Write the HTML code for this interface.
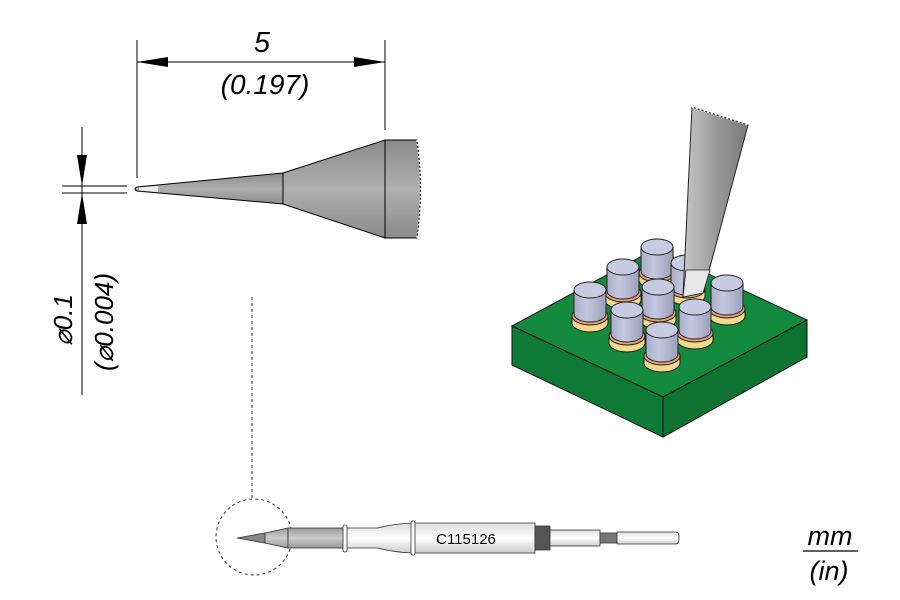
<!DOCTYPE html>
<html><head><meta charset="utf-8"><style>
html,body{margin:0;padding:0;background:#fff;width:900px;height:600px;overflow:hidden}
text{font-family:"Liberation Sans",sans-serif}
</style></head><body>
<svg width="900" height="600" viewBox="0 0 900 600" xmlns="http://www.w3.org/2000/svg">
<defs>
<linearGradient id="cone" x1="0" y1="0" x2="0" y2="1">
<stop offset="0" stop-color="#8a8a8a"/><stop offset="0.5" stop-color="#b0b0b0"/><stop offset="1" stop-color="#8a8a8a"/></linearGradient>
<linearGradient id="tipg" x1="0" y1="0" x2="1" y2="0">
<stop offset="0" stop-color="#c8c8c8"/><stop offset="0.5" stop-color="#9a9a9a"/><stop offset="1" stop-color="#7a7a7a"/></linearGradient>
<linearGradient id="cyl" x1="0" y1="0" x2="1" y2="0">
<stop offset="0" stop-color="#a9adc8"/><stop offset="0.4" stop-color="#c4c8e0"/><stop offset="1" stop-color="#9a9eb8"/></linearGradient>
<linearGradient id="shaft" x1="0" y1="0" x2="0" y2="1">
<stop offset="0" stop-color="#ddd"/><stop offset="0.5" stop-color="#fff"/><stop offset="1" stop-color="#ccc"/></linearGradient>
<linearGradient id="shaftg" x1="0" y1="0" x2="0" y2="1">
<stop offset="0" stop-color="#999"/><stop offset="0.5" stop-color="#ccc"/><stop offset="1" stop-color="#999"/></linearGradient>
<g id="pin">
<path d="M-18 26 V33 A18 9 0 0 0 18 33 V26 Z" fill="#f1d98a" stroke="#222" stroke-width="1"/>
<ellipse cx="0" cy="26" rx="18" ry="9" fill="#e3a070" stroke="#222" stroke-width="1"/>
<path d="M-16 0 V24 A16 8 0 0 0 16 24 V0 Z" fill="url(#cyl)" stroke="#222" stroke-width="1"/>
<ellipse cx="0" cy="0" rx="16" ry="8" fill="#c7cbe2" stroke="#222" stroke-width="1"/>
</g>
</defs>

<line x1="137" y1="40" x2="137" y2="178" stroke="#000" stroke-width="1"/>
<line x1="385" y1="40" x2="385" y2="130" stroke="#000" stroke-width="1"/>
<line x1="137" y1="62" x2="385" y2="62" stroke="#000" stroke-width="1"/>
<polygon points="137,62 168,57 168,67" fill="#000"/>
<polygon points="385,62 354,57 354,67" fill="#000"/>
<text x="262" y="52" font-size="29" font-style="italic" text-anchor="middle">5</text>
<text x="265" y="94" font-size="28" font-style="italic" text-anchor="middle">(0.197)</text>

<path d="M385 140 H417 Q424 189 417 238 H385 Z" fill="url(#cone)" stroke="#000" stroke-width="1"/>
<path d="M417 140 Q424 189 417 238" fill="none" stroke="#fff" stroke-width="1.5" stroke-dasharray="2,2"/>
<path d="M283 173 L385 140 V238 L283 204 Z" fill="url(#cone)" stroke="#000" stroke-width="1"/>
<path d="M137 187 L283 173 V204 L137 191 Q133 189 137 187 Z" fill="url(#cone)" stroke="#000" stroke-width="1"/>
<path d="M139 187.5 L158 186 V192 L139 190.5 Z" fill="#eee"/>

<line x1="82" y1="127" x2="82" y2="395" stroke="#000" stroke-width="1"/>
<line x1="62" y1="186" x2="127" y2="186" stroke="#000" stroke-width="1"/>
<line x1="62" y1="193" x2="127" y2="193" stroke="#000" stroke-width="1"/>
<polygon points="82,186 77,155 87,155" fill="#000"/>
<polygon points="82,193 77,224 87,224" fill="#000"/>
<text transform="translate(72,320) rotate(-90)" font-size="26" font-style="italic" text-anchor="middle">⌀0.1</text>
<text transform="translate(113,322) rotate(-90)" font-size="26" font-style="italic" text-anchor="middle">(⌀0.004)</text>

<line x1="252" y1="297" x2="252" y2="498" stroke="#333" stroke-width="1" stroke-dasharray="3,3"/>
<circle cx="254" cy="537" r="38" fill="none" stroke="#333" stroke-width="1" stroke-dasharray="3,3"/>

<path d="M237 538 L265 533 V543 Z" fill="#888" stroke="#333" stroke-width="0.8"/>
<path d="M265 533 L288 528 V548 L265 543 Z" fill="url(#shaftg)" stroke="#333" stroke-width="0.8"/>
<rect x="288" y="528" width="57" height="20" fill="url(#shaftg)" stroke="#333" stroke-width="0.8"/>
<path d="M345 528 H378 Q392 524 412 523 H535 V553 H412 Q392 552 378 548 H345 Z" fill="url(#shaft)" stroke="#333" stroke-width="0.8"/>
<rect x="343" y="525" width="4" height="27" rx="2" fill="#fff" stroke="#333" stroke-width="0.8"/>
<rect x="411" y="521" width="4" height="34" rx="2" fill="#fff" stroke="#333" stroke-width="0.8"/>
<rect x="535" y="526" width="15" height="24" fill="#555" stroke="#333" stroke-width="0.8"/>
<rect x="550" y="530" width="50" height="16" fill="url(#shaft)" stroke="#333" stroke-width="0.8"/>
<rect x="600" y="533" width="17" height="10" fill="#777" stroke="#333" stroke-width="0.8"/>
<path d="M617 532 H676 Q679 532 679 538 Q679 544 676 544 H617 Z" fill="url(#shaft)" stroke="#333" stroke-width="0.8"/>
<text x="466" y="544" font-size="15" text-anchor="middle">C115126</text>

<text x="830" y="545" font-size="27" font-style="italic" text-anchor="middle">mm</text>
<line x1="803" y1="551" x2="858" y2="551" stroke="#000" stroke-width="1.2"/>
<text x="829" y="580" font-size="27" font-style="italic" text-anchor="middle">(in)</text>

<polygon points="512,326 655,249 807,320 663,397" fill="#138a3e" stroke="#111" stroke-width="1"/>
<polygon points="512,326 663,397 663,437 512,365" fill="#0f7a35" stroke="#111" stroke-width="1"/>
<polygon points="663,397 807,320 807,357 663,437" fill="#0e7231" stroke="#111" stroke-width="1"/>

<use href="#pin" x="657" y="247"/>
<use href="#pin" x="687" y="263"/>
<use href="#pin" x="623" y="267"/>
<use href="#pin" x="590" y="290"/>
<use href="#pin" x="658" y="287"/>
<use href="#pin" x="727" y="283"/>
<use href="#pin" x="627" y="310"/>
<use href="#pin" x="695" y="307"/>
<use href="#pin" x="662" y="330"/>

<path d="M692 107 L748 125 L703 293 L683 297 Z" fill="url(#tipg)" stroke="#222" stroke-width="1"/>
<path d="M686 270 L710 270 L703 293 L683 297 Z" fill="#e8e8e8" stroke="#222" stroke-width="0.8"/>
<path d="M692 107 L748 125" stroke="#fff" stroke-width="1.5" stroke-dasharray="2,2"/>
</svg>
</body></html>
